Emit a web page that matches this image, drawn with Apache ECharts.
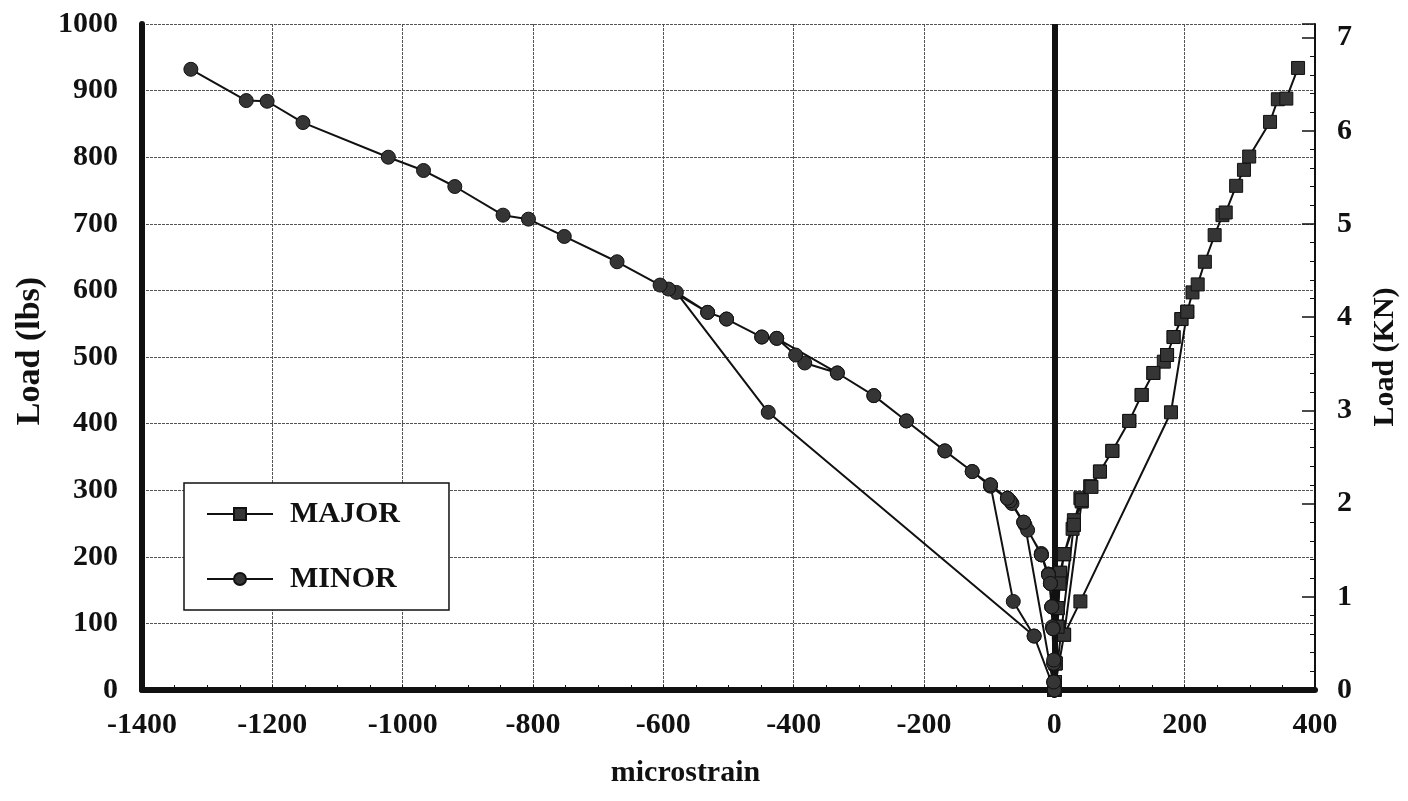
<!DOCTYPE html>
<html>
<head>
<meta charset="utf-8">
<script src="https://cdn.jsdelivr.net/npm/echarts@6/dist/echarts.min.js"></script>
<style>
  html, body { margin: 0; padding: 0; background: #fff; }
  #chart { width: 1408px; height: 801px; }
</style>
</head>
<body>
<div id="chart"></div>
<script>
// Strain gauge readings: load cycles, each unloaded back to zero before reloading.
// MAJOR gauge (tension side), microstrain and load in lbs, in recorded order.
const majorStrain = [
  0, 1, 2, 5, 5, 8, 9, 15, 30, 0,
  0, 2, 5, 5, 8, 15, 30, 42, 15, 0,
  0, 2, 5, 9, 15, 28, 40, 55, 70, 89, 115, 134, 152, 168, 173, 183, 195, 204, 179, 40, 15, 0,
  0, 1, 5, 8, 15, 30, 42, 57, 70, 89, 115, 134, 152, 173, 183, 195, 204, 212, 220, 231, 246, 258, 263, 279, 291, 299, 331, 343, 356, 374
];
const majorLoad = [
  0, 12, 40, 95, 123, 160, 176, 204, 248, 0,
  0, 40, 95, 123, 160, 204, 255, 283, 83, 0,
  0, 40, 123, 176, 204, 242, 288, 306, 328, 359, 404, 443, 476, 493, 503, 530, 557, 568, 417, 133, 83, 0,
  0, 12, 95, 160, 204, 248, 285, 305, 328, 359, 404, 443, 476, 503, 530, 557, 568, 597, 609, 643, 683, 713, 717, 757, 781, 801, 853, 887, 888, 934
];

// MINOR gauge (compression side).
const minorStrain = [
  0, -1, -1, -2, -4, -6, -9, -20, -45, 0,
  0, -1, -2, -4, -6, -9, -20, -47, -65, -72, -98, -63, -31, 0,
  0, -1, -3, -4, -9, -20, -41, -68, -98, -126, -168, -227, -277, -333, -426, -449, -503, -532, -580, -439, -31, 0,
  0, -1, -2, -6, -20, -47, -72, -98, -126, -168, -227, -277, -333, -383, -397, -426, -449, -503, -532, -592, -605, -671, -752, -807, -846, -920, -968, -1022, -1153, -1208, -1240, -1325
];
const minorLoad = [
  0, 12, 40, 92, 125, 160, 174, 203, 248, 0,
  0, 40, 92, 125, 160, 174, 203, 252, 280, 288, 308, 133, 81, 0,
  0, 45, 95, 125, 173, 205, 240, 284, 306, 328, 359, 404, 442, 476, 528, 530, 557, 567, 597, 417, 81, 0,
  0, 12, 92, 160, 203, 252, 288, 308, 328, 359, 404, 442, 476, 491, 503, 528, 530, 557, 567, 602, 608, 643, 681, 707, 713, 756, 780, 800, 852, 884, 885, 932
];

// Axis scales and tick settings
const xRange = [-1400, 400];
const xStep = 200;
const lbsRange = [0, 1000];
const lbsStep = 100;
const knMax = 7.146;   // right-hand scale paired with 0..1000 lbs
const knStep = 1;

const seriesNames = ['MAJOR', 'MINOR'];

const pairs = (xs, ys) => xs.map((x, i) => [x, ys[i]]);
const plain = v => String(v);   // no thousands separators

const FONT = "'Liberation Serif', 'Times New Roman', 'DejaVu Serif', serif";
const textBase = { fontFamily: FONT, fontWeight: 'bold', fontSize: 30, color: '#111' };
const gridLine = { show: true, lineStyle: { color: '#555', width: 1, type: [3, 1] } };

const chart = echarts.init(document.getElementById('chart'), null, { renderer: 'canvas' });

chart.setOption({
  backgroundColor: '#fff',
  animation: false,
  grid: { left: 142, right: 91, top: 24, bottom: 111, containLabel: false },
  legend: {
    orient: 'vertical',
    left: 184,
    top: 483,
    data: seriesNames,
    itemWidth: 66,
    itemHeight: 15,
    itemGap: 35,
    padding: [16, 49, 16, 22],
    backgroundColor: '#fff',
    borderColor: '#111',
    borderWidth: 1.5,
    borderRadius: 0,
    textStyle: Object.assign({}, textBase, { lineHeight: 30, padding: [0, 0, 0, 12] })
  },
  xAxis: {
    type: 'value',
    min: xRange[0],
    max: xRange[1],
    interval: xStep,
    name: 'microstrain',
    nameLocation: 'middle',
    nameGap: 68,
    nameTextStyle: Object.assign({}, textBase, { padding: [0, 86, 0, 0] }),
    axisLine: { show: true, onZero: false, lineStyle: { color: '#111', width: 6 } },
    axisTick: { show: true, inside: true, length: 5, lineStyle: { color: '#111', width: 1 } },
    minorTick: { show: true, splitNumber: 4, length: 5, lineStyle: { color: '#111', width: 1 } },
    axisLabel: Object.assign({}, textBase, { margin: 20, formatter: plain }),
    splitLine: gridLine
  },
  yAxis: [
    {
      type: 'value',
      position: 'left',
      min: lbsRange[0],
      max: lbsRange[1],
      interval: lbsStep,
      name: 'Load (lbs)',
      nameLocation: 'middle',
      nameRotate: 90,
      nameGap: 95,
      nameTextStyle: Object.assign({}, textBase, { fontSize: 34, padding: [0, 0, 0, 12] }),
      axisLine: { show: true, onZero: false, lineStyle: { color: '#111', width: 6 } },
      axisTick: { show: false },
      minorTick: { show: true, splitNumber: 5, length: 3, lineStyle: { color: '#111', width: 1 } },
      axisLabel: Object.assign({}, textBase, { margin: 24, formatter: plain }),
      splitLine: gridLine
    },
    {
      type: 'value',
      position: 'right',
      min: 0,
      max: knMax,
      interval: knStep,
      name: 'Load (KN)',
      nameLocation: 'middle',
      nameRotate: 90,
      nameGap: 55,
      nameTextStyle: textBase,
      axisLine: { show: true, onZero: false, lineStyle: { color: '#111', width: 2 } },
      axisTick: { show: true, inside: true, length: 13, lineStyle: { color: '#111', width: 1.5 } },
      minorTick: { show: true, splitNumber: 5, length: 5, lineStyle: { color: '#111', width: 1 } },
      axisLabel: Object.assign({}, textBase, {
        margin: 22,
        showMaxLabel: false,
        formatter: v => (Math.abs(v - Math.round(v)) < 1e-6 ? String(Math.round(v)) : '')
      }),
      splitLine: { show: false }
    }
  ],
  series: [
    {
      name: seriesNames[0],
      type: 'line',
      yAxisIndex: 0,
      data: pairs(majorStrain, majorLoad),
      symbol: 'rect',
      symbolSize: 13,
      showAllSymbol: true,
      itemStyle: { color: '#353535', borderColor: '#111', borderWidth: 1 },
      lineStyle: { color: '#111', width: 2 },
      emphasis: { disabled: true },
      z: 3,
      markLine: {
        silent: true,
        symbol: 'none',
        label: { show: false },
        lineStyle: { color: '#111', width: 6, type: 'solid' },
        data: [{ xAxis: 0 }],
        z: 2
      }
    },
    {
      name: seriesNames[1],
      type: 'line',
      yAxisIndex: 0,
      data: pairs(minorStrain, minorLoad),
      symbol: 'circle',
      symbolSize: 14,
      showAllSymbol: true,
      itemStyle: { color: '#353535', borderColor: '#111', borderWidth: 1 },
      lineStyle: { color: '#111', width: 2 },
      emphasis: { disabled: true },
      z: 3
    }
  ]
});
</script>
</body>
</html>
